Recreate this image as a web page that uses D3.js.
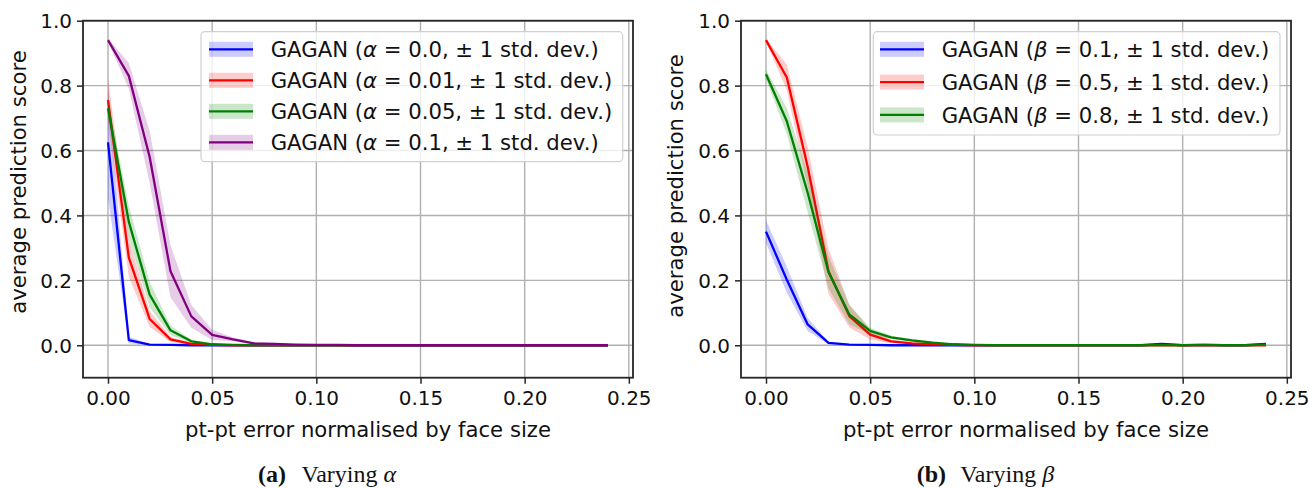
<!DOCTYPE html>
<html>
<head>
<meta charset="utf-8">
<script src="https://cdn.jsdelivr.net/npm/d3@7"></script>
<style>
  html, body { margin: 0; padding: 0; background: #fff; }
  svg { display: block; }
</style>
</head>
<body>
<svg id="chart" width="1309" height="488"></svg>
<script>
// ---------------- data ----------------
const errX = [0.00, 0.01, 0.02, 0.03, 0.04, 0.05, 0.06, 0.07, 0.08, 0.09, 0.10, 0.11, 0.12,
              0.13, 0.14, 0.15, 0.16, 0.17, 0.18, 0.19, 0.20, 0.21, 0.22, 0.23, 0.24];

// panel (a): varying alpha
const alpha00Mean = [0.625, 0.016, 0.002, 0.001, 0, 0, 0, 0, 0, 0, 0, 0, 0, 0, 0, 0, 0, 0, 0, 0, 0, 0, 0, 0, 0];
const alpha00Std  = [0.17, 0.010, 0.002, 0.001, 0, 0, 0, 0, 0, 0, 0, 0, 0, 0, 0, 0, 0, 0, 0, 0, 0, 0, 0, 0, 0];
const alpha001Mean = [0.755, 0.270, 0.081, 0.018, 0.004, 0.001, 0, 0, 0, 0, 0, 0, 0, 0, 0, 0, 0, 0, 0, 0, 0, 0, 0, 0, 0];
const alpha001Std  = [0.07, 0.060, 0.025, 0.008, 0.003, 0.001, 0, 0, 0, 0, 0, 0, 0, 0, 0, 0, 0, 0, 0, 0, 0, 0, 0, 0, 0];
const alpha005Mean = [0.730, 0.380, 0.156, 0.046, 0.012, 0.003, 0.001, 0, 0, 0, 0, 0, 0, 0, 0, 0, 0, 0, 0, 0, 0, 0, 0, 0, 0];
const alpha005Std  = [0.03, 0.050, 0.040, 0.015, 0.005, 0.002, 0.001, 0, 0, 0, 0, 0, 0, 0, 0, 0, 0, 0, 0, 0, 0, 0, 0, 0, 0];
const alpha01Mean = [0.940, 0.830, 0.580, 0.228, 0.089, 0.032, 0.018, 0.006, 0.004, 0.002, 0.001, 0.001, 0, 0, 0, 0, 0, 0, 0, 0, 0, 0, 0, 0, 0];
const alpha01Std  = [0.005, 0.040, 0.080, 0.080, 0.035, 0.016, 0.006, 0.003, 0.002, 0.001, 0, 0, 0, 0, 0, 0, 0, 0, 0, 0, 0, 0, 0, 0, 0];

// panel (b): varying beta
const beta01Mean = [0.350, 0.202, 0.064, 0.007, 0.002, 0.001, 0, 0, 0, 0, 0, 0, 0, 0, 0, 0, 0, 0, 0, 0.004, 0, 0.001, 0, 0, 0.004];
const beta01Std  = [0.035, 0.040, 0.020, 0.004, 0.001, 0, 0, 0, 0, 0, 0, 0, 0, 0, 0, 0, 0, 0, 0, 0.002, 0, 0, 0, 0, 0.002];
const beta05Mean = [0.940, 0.825, 0.550, 0.228, 0.090, 0.033, 0.012, 0.006, 0.003, 0.001, 0, 0, 0, 0, 0, 0, 0, 0, 0, 0, 0, 0, 0, 0, 0];
const beta05Std  = [0.005, 0.040, 0.060, 0.070, 0.035, 0.015, 0.006, 0.003, 0.002, 0.001, 0, 0, 0, 0, 0, 0, 0, 0, 0, 0, 0, 0, 0, 0, 0];
const beta08Mean = [0.835, 0.690, 0.470, 0.225, 0.095, 0.044, 0.024, 0.015, 0.008, 0.003, 0.001, 0, 0, 0, 0, 0, 0, 0, 0, 0.001, 0, 0.001, 0, 0, 0.002];
const beta08Std  = [0.015, 0.040, 0.060, 0.050, 0.030, 0.010, 0.005, 0.004, 0.003, 0.002, 0.001, 0, 0, 0, 0, 0, 0, 0, 0, 0, 0, 0, 0, 0, 0];

const alphaLabels = ["0.0", "0.01", "0.05", "0.1"];
const betaLabels = ["0.1", "0.5", "0.8"];

const xTicks = [0.00, 0.05, 0.10, 0.15, 0.20, 0.25];
const xTickLabels = ["0.00", "0.05", "0.10", "0.15", "0.20", "0.25"];
const yTicks = [0.0, 0.2, 0.4, 0.6, 0.8, 1.0];
const yTickLabels = ["0.0", "0.2", "0.4", "0.6", "0.8", "1.0"];

const xLabelText = "pt-pt error normalised by face size";
const yLabelText = "average prediction score";

// ---------------- drawing ----------------
const svg = d3.select("#chart");
const SANS = "'DejaVu Sans', sans-serif";
const SERIF = "'Liberation Serif', 'DejaVu Serif', serif";
const TICK_FS = 20;
const LABEL_FS = 21.2;

function panel(cfg) {
  const x = d3.scaleLinear().domain([-0.012, 0.252]).range([cfg.left, cfg.right]);
  const y = d3.scaleLinear().domain([-0.1, 1.0]).range([377.7, 20.7]);
  const g = svg.append("g");

  // grid
  g.selectAll(".gx").data(xTicks).enter().append("line")
    .attr("x1", d => x(d)).attr("x2", d => x(d))
    .attr("y1", y(1.0)).attr("y2", y(-0.1))
    .attr("stroke", "#b0b0b0").attr("stroke-width", 1.4);
  g.selectAll(".gy").data(yTicks).enter().append("line")
    .attr("x1", cfg.left).attr("x2", cfg.right)
    .attr("y1", d => y(d)).attr("y2", d => y(d))
    .attr("stroke", "#b0b0b0").attr("stroke-width", 1.4);

  // series
  const area = d3.area().x((d, i) => x(errX[i])).y0(d => y(d[0] - d[1])).y1(d => y(d[0] + d[1]));
  const line = d3.line().x((d, i) => x(errX[i])).y(d => y(d));
  cfg.series.forEach(s => {
    const pts = s.mean.map((m, i) => [m, s.std[i]]);
    g.append("path").attr("d", area(pts)).attr("fill", s.color).attr("fill-opacity", 0.2).attr("stroke", "none");
    g.append("path").attr("d", line(s.mean)).attr("fill", "none").attr("stroke", s.color)
      .attr("stroke-width", 2.3).attr("stroke-linejoin", "round");
  });

  // spines
  g.append("rect").attr("x", cfg.left).attr("y", y(1.0))
    .attr("width", cfg.right - cfg.left).attr("height", y(-0.1) - y(1.0))
    .attr("fill", "none").attr("stroke", "#262626").attr("stroke-width", 1.8);

  // x axis
  const xa = d3.axisBottom(x).tickValues(xTicks).tickFormat((d, i) => xTickLabels[i]).tickSizeOuter(0).tickSize(6).tickPadding(7);
  const gx = g.append("g").attr("transform", `translate(0,${y(-0.1)})`).call(xa);
  gx.select(".domain").remove();
  gx.selectAll("line").attr("stroke", "#262626").attr("stroke-width", 1.5);
  gx.selectAll("text").style("font-size", TICK_FS + "px").style("font-family", SANS).attr("fill", "#111")
    .attr("dy", "0.71em");

  const ya = d3.axisLeft(y).tickValues(yTicks).tickFormat((d, i) => yTickLabels[i]).tickSizeOuter(0).tickSize(6).tickPadding(5);
  const gy = g.append("g").attr("transform", `translate(${cfg.left},0)`).call(ya);
  gy.select(".domain").remove();
  gy.selectAll("line").attr("stroke", "#262626").attr("stroke-width", 1.5);
  gy.selectAll("text").style("font-size", TICK_FS + "px").style("font-family", SANS).attr("fill", "#111")
    .attr("dy", "0.36em");

  // axis labels
  g.append("text").attr("x", cfg.xlabX).attr("y", 437)
    .attr("text-anchor", "start").style("font-size", LABEL_FS + "px").style("font-family", SANS)
    .attr("fill", "#111").text(xLabelText);
  g.append("text").attr("transform", `translate(${cfg.ylabX},${cfg.ylabY}) rotate(-90)`)
    .attr("text-anchor", "middle").style("font-size", LABEL_FS + "px").style("font-family", SANS)
    .attr("fill", "#111").text(yLabelText);

  // legend
  const L = cfg.legend;
  g.append("rect").attr("x", L.x0).attr("y", L.y0).attr("width", L.x1 - L.x0).attr("height", L.y1 - L.y0)
    .attr("rx", 4).attr("fill", "#fff").attr("fill-opacity", 0.8)
    .attr("stroke", "#d0d0d0").attr("stroke-width", 1.2);
  cfg.series.forEach((s, i) => {
    const cy = L.firstRow + i * L.step;
    g.append("rect").attr("x", L.hx0).attr("y", cy - 7.5).attr("width", 44).attr("height", 15)
      .attr("fill", s.color).attr("fill-opacity", 0.2);
    g.append("line").attr("x1", L.hx0).attr("x2", L.hx0 + 44).attr("y1", cy).attr("y2", cy)
      .attr("stroke", s.color).attr("stroke-width", 2.3);
    const t = g.append("text").attr("x", L.tx).attr("y", cy).attr("dy", "0.36em")
      .style("font-size", LABEL_FS + "px").style("font-family", SANS).attr("fill", "#111");
    t.append("tspan").text("GAGAN (");
    t.append("tspan").style("font-style", "italic").text(cfg.sym);
    t.append("tspan").text(" = " + s.label + ", \u00B1 1 std. dev.)");
  });

  // caption
  const c = svg.append("text").attr("y", 482).style("font-family", SERIF).style("font-size", "24px").attr("fill", "#111");
  c.append("tspan").attr("x", cfg.capX).style("font-weight", "bold").text(cfg.capTag);
  c.append("tspan").attr("x", cfg.capX + 43.5).text("Varying ");
  c.append("tspan").style("font-style", "italic").text(cfg.sym);
}

panel({
  left: 83, right: 633, sym: "\u03B1", capTag: "(a)", capX: 258,
  xlabX: 185, ylabX: 26, ylabY: 182,
  legend: { x0: 201, x1: 622.7, y0: 31.7, y1: 161.7, firstRow: 49.3, step: 31, hx0: 209, tx: 270.7 },
  series: [
    { mean: alpha00Mean, std: alpha00Std, color: "#0000ff", label: alphaLabels[0] },
    { mean: alpha001Mean, std: alpha001Std, color: "#ff0000", label: alphaLabels[1] },
    { mean: alpha005Mean, std: alpha005Std, color: "#008000", label: alphaLabels[2] },
    { mean: alpha01Mean, std: alpha01Std, color: "#800080", label: alphaLabels[3] }
  ]
});

panel({
  left: 741, right: 1291, sym: "\u03B2", capTag: "(b)", capX: 916.7,
  xlabX: 843, ylabX: 683, ylabY: 186,
  legend: { x0: 873.3, x1: 1280, y0: 31.7, y1: 135, firstRow: 49.3, step: 32.8, hx0: 880, tx: 941.7 },
  series: [
    { mean: beta01Mean, std: beta01Std, color: "#0000ff", label: betaLabels[0] },
    { mean: beta05Mean, std: beta05Std, color: "#ff0000", label: betaLabels[1] },
    { mean: beta08Mean, std: beta08Std, color: "#008000", label: betaLabels[2] }
  ]
});
</script>
</body>
</html>
